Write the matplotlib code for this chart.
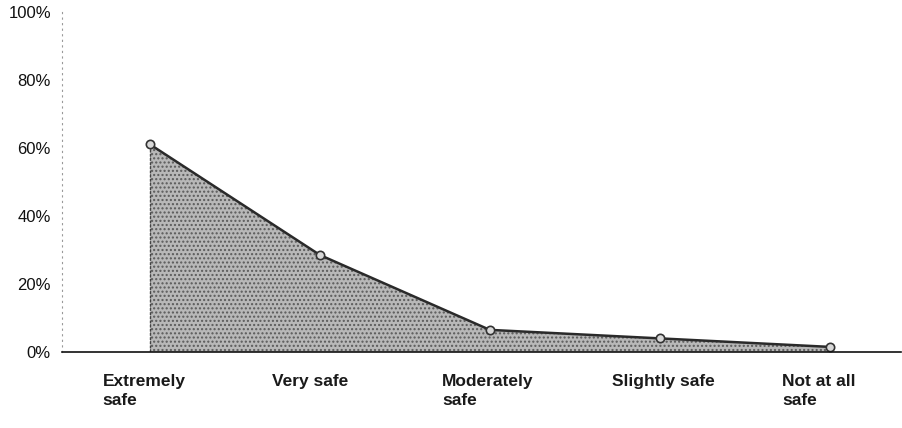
import matplotlib.pyplot as plt
import matplotlib.transforms as mtransforms

categories = ['Extremely\nsafe', 'Very safe', 'Moderately\nsafe', 'Slightly safe', 'Not at all\nsafe']
values = [61, 28.5, 6.5, 4, 1.5]
yticks = [0, 20, 40, 60, 80, 100]

plt.rcParams['font.family'] = ['Liberation Sans', 'DejaVu Sans']

fig = plt.figure(figsize=(9.03, 4.28), dpi=100)
ax = fig.add_axes([0.0687, 0.1776, 0.929, 0.795])

x = list(range(len(categories)))
ax.fill_between(x, 0, values, facecolor='#b8b8b8', hatch='....', edgecolor='#5a5a5a', linewidth=0)
ax.plot(x, values, color='#2a2a2a', linewidth=1.8)
ax.plot([0, 0], [0, values[0]], color='#444444', linewidth=1, linestyle=(0, (2, 1)))
ax.plot(x, values, linestyle='none', marker='o', markersize=6,
        markerfacecolor='#d8d8d8', markeredgecolor='#333333', markeredgewidth=1.2)

ax.set_xlim(-0.518, 4.42)
ax.set_ylim(0, 100)

for s in ['top', 'right']:
    ax.spines[s].set_visible(False)
ax.spines['bottom'].set_color('#111111')
ax.spines['bottom'].set_linewidth(1.2)
ax.spines['left'].set_color('#999999')
ax.spines['left'].set_linewidth(0.8)
ax.spines['left'].set_linestyle((0, (1, 4)))

ax.set_yticks(yticks)
ax.set_yticklabels([f'{t}%' for t in yticks], fontsize=12, color='#111111')
ax.tick_params(axis='y', length=0, pad=8)
ax.set_xticks([])

trans = mtransforms.blended_transform_factory(ax.transData, ax.transAxes)
for xi, lab in zip(x, categories):
    ax.text(xi - 0.28, -0.065, lab, transform=trans, ha='left', va='top',
            fontsize=12.5, fontweight='bold', color='#1a1a1a', linespacing=1.3)

fig.savefig('out.png', dpi=100)
